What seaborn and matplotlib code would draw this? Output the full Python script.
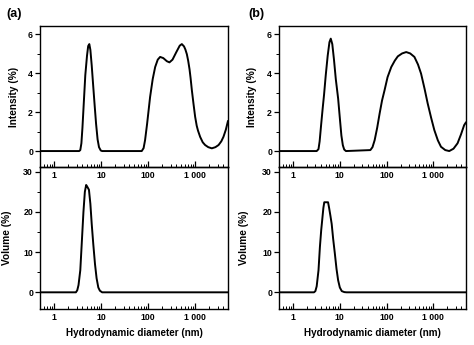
import numpy as np
import pandas as pd
import matplotlib
matplotlib.use("Agg")
import matplotlib.pyplot as plt
import seaborn as sns
from matplotlib.ticker import FixedLocator, FixedFormatter, LogLocator, NullFormatter

# ---------------- data ----------------
# Panel (a) - intensity distribution
a_int_d = [0.5, 3.4, 3.6, 3.8, 4.0, 4.3, 4.6, 5.0, 5.3, 5.6, 5.9, 6.3, 6.8, 7.3, 7.8, 8.4, 9.0, 9.8, 10.5,
           73, 80, 86, 95, 110, 125, 141, 160, 180, 210, 250, 284, 330, 400, 470, 521, 580, 620, 666, 710,
           760, 800, 851, 920, 1000, 1080, 1150, 1277, 1450, 1630, 1900, 2265, 2700, 3150, 3600, 4000,
           4500, 5000]
a_int_v = [0, 0, 0.05, 0.4, 1.2, 2.6, 3.9, 4.9, 5.4, 5.5, 5.2, 4.4, 3.3, 2.3, 1.4, 0.6, 0.2, 0.03, 0,
           0, 0.15, 0.56, 1.4, 2.78, 3.7, 4.32, 4.7, 4.84, 4.78, 4.62, 4.56, 4.7, 5.1, 5.42, 5.5, 5.38, 5.22, 4.98, 4.65,
           4.2, 3.75, 3.13, 2.45, 1.76, 1.3, 1.05, 0.73, 0.45, 0.31, 0.2, 0.14, 0.2, 0.31, 0.5, 0.73,
           1.1, 1.55]

# Panel (a) - volume distribution
a_vol_d = [0.5, 2.9, 3.1, 3.3, 3.6, 3.9, 4.2, 4.5, 4.8, 5.1, 5.5, 5.9, 6.3, 6.8, 7.4, 8.0, 8.7, 9.4, 10.5, 5000]
a_vol_v = [0, 0, 0.5, 1.8, 5.5, 13, 20, 25, 26.7, 26.2, 25.5, 22, 17, 12, 7, 3.5, 1.2, 0.4, 0, 0]

# Panel (b) - intensity distribution
b_int_d = [0.5, 3.2, 3.5, 3.7, 4.0, 4.3, 4.6, 5.0, 5.5, 6.0, 6.4, 6.9, 7.5, 8.2, 9.2, 10.0, 10.8, 11.6, 12.4, 13.5,
           45, 50, 55.6, 63, 71, 80, 90.6, 105, 126, 150, 174, 215, 263, 320, 394, 470, 547, 650, 757, 900,
           1050, 1250, 1458, 1800, 2190, 2700, 3300, 3900, 4560, 5000]
b_int_v = [0, 0, 0.1, 0.5, 1.4, 2.2, 2.9, 3.9, 4.9, 5.6, 5.78, 5.5, 4.7, 3.7, 2.7, 1.7, 0.8, 0.3, 0.08, 0,
           0.05, 0.2, 0.56, 1.2, 1.93, 2.6, 3.13, 3.8, 4.32, 4.65, 4.87, 5.02, 5.09, 5.02, 4.84, 4.45, 3.98, 3.2, 2.45, 1.7,
           1.08, 0.55, 0.22, 0.05, 0.0, 0.12, 0.4, 0.85, 1.33, 1.48]

# Panel (b) - volume distribution
b_vol_d = [0.5, 2.8, 3.0, 3.2, 3.5, 3.75, 4.0, 4.2, 4.45, 4.65, 5.6, 5.9, 6.3, 6.7, 7.2, 7.8, 8.5, 9.2, 10.0, 11.0, 12.5, 14.0, 5000]
b_vol_v = [0, 0, 0.3, 1.5, 5.5, 11.3, 15.5, 18, 21, 22.4, 22.4, 21, 19, 17, 13.3, 9.8, 5.8, 3.0, 1.2, 0.3, 0.05, 0, 0]

x_ticks = [1, 10, 100, 1000]
x_tick_labels = ["1", "10", "100", "1 000"]
int_ticks = [0, 2, 4, 6]
vol_ticks = [0, 10, 20, 30]

# ---------------- style ----------------
sns.set_theme(style="ticks")
plt.rcParams["font.family"] = ["Liberation Sans", "DejaVu Sans"]
plt.rcParams["font.weight"] = "bold"
plt.rcParams["axes.labelweight"] = "bold"

W, H = 474, 345
fig = plt.figure(figsize=(W / 100, H / 100), dpi=100)
fig.patch.set_facecolor("white")


def rect(l, r, t, b):
    return [l / W, (H - b) / H, (r - l) / W, (b - t) / H]


def style_axis(ax, ylim, yticks, yminor, ylabel, labx):
    ax.set_xscale("log")
    ax.set_xlim(0.5, 5000)
    ax.set_ylim(*ylim)
    ax.xaxis.set_major_locator(FixedLocator(x_ticks))
    ax.xaxis.set_major_formatter(FixedFormatter(x_tick_labels))
    ax.xaxis.set_minor_locator(LogLocator(base=10, subs=np.arange(2, 10), numticks=20))
    ax.xaxis.set_minor_formatter(NullFormatter())
    ax.yaxis.set_major_locator(FixedLocator(yticks))
    ax.yaxis.set_minor_locator(FixedLocator(yminor))
    for s in ax.spines.values():
        s.set_visible(True)
        s.set_color("black")
        s.set_linewidth(1.0)
    ax.tick_params(axis="x", which="major", direction="in", length=4, width=0.9,
                   labelsize=6.3, pad=3, colors="black")
    ax.tick_params(axis="x", which="minor", direction="in", length=2.2, width=0.7, colors="black")
    ax.tick_params(axis="y", which="major", direction="out", length=3.5, width=0.9,
                   labelsize=6.3, pad=1.5, colors="black")
    ax.tick_params(axis="y", which="minor", direction="out", length=2, width=0.7, colors="black")
    for lab in ax.get_xticklabels() + ax.get_yticklabels():
        lab.set_fontweight("bold")
    ax.set_ylabel(ylabel, fontsize=7.3, fontweight="bold", color="black")
    ax.yaxis.set_label_coords(labx, 0.5)
    ax.grid(False)


panels = [
    ("(a)", 40, 228, a_int_d, a_int_v, a_vol_d, a_vol_v, -0.112, -0.151, 14),
    ("(b)", 279, 466, b_int_d, b_int_v, b_vol_d, b_vol_v, -0.116, -0.16, 256),
]

for tag, l, r, idd, iv, vd, vv, labx_i, labx_v, tagx in panels:
    ax_v = fig.add_axes(rect(l, r, 167, 309))
    ax_i = fig.add_axes(rect(l, r, 26, 167))
    ax_i.set_zorder(3)
    ax_i.patch.set_visible(False)

    df_i = pd.DataFrame({"d": idd, "v": iv})
    df_v = pd.DataFrame({"d": vd, "v": vv})
    sns.lineplot(data=df_i, x="d", y="v", ax=ax_i, color="black", linewidth=1.4,
                 estimator=None, sort=True)
    sns.lineplot(data=df_v, x="d", y="v", ax=ax_v, color="black", linewidth=1.4,
                 estimator=None, sort=True)

    style_axis(ax_i, (-0.82, 6.43), int_ticks, [1, 3, 5], "Intensity (%)", labx_i)
    style_axis(ax_v, (-4.15, 31.17), vol_ticks, [5, 15, 25], "Volume (%)", labx_v)
    ax_i.set_xlabel("")
    ax_v.set_xlabel("Hydrodynamic diameter (nm)", fontsize=7.1, fontweight="bold",
                    color="black", labelpad=4)

    fig.text(tagx / W, 1 - 14 / H, tag, fontsize=9, fontweight="bold",
             ha="center", va="center", color="black")

fig.savefig("out.png", dpi=100, facecolor="white")
